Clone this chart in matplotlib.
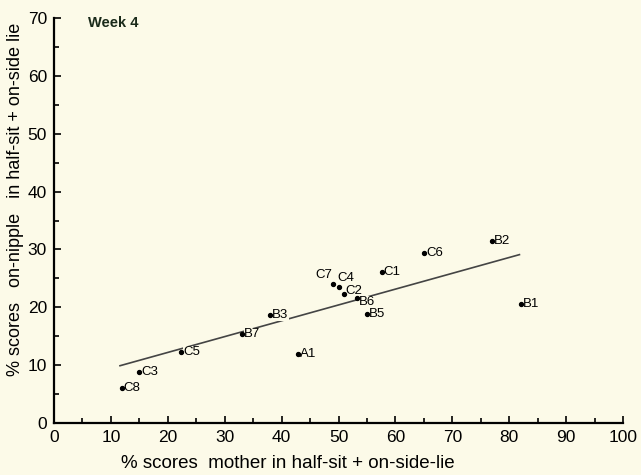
import matplotlib
matplotlib.use('Agg')
import matplotlib.pyplot as plt
from matplotlib.ticker import MultipleLocator

plt.rcParams['font.family'] = ['Liberation Sans', 'DejaVu Sans']

# subject codes and % scores
labels = ['C8', 'C3', 'C5', 'B7', 'B3', 'A1', 'C7', 'C4', 'C2', 'B6', 'B5', 'C1', 'C6', 'B2', 'B1']
mother = [11.9, 15.0, 22.3, 33.0, 38.0, 42.8, 49.1, 50.1, 50.9, 53.2, 55.0, 57.6, 65.1, 77.0, 82.0]
nipple = [6.0, 8.8, 12.3, 15.4, 18.7, 11.9, 24.1, 23.5, 22.3, 21.6, 18.8, 26.1, 29.3, 31.5, 20.6]

# regression line end points
line_x = [11.6, 81.8]
line_y = [9.9, 29.1]

bg = '#fcfae8'

fig = plt.figure(figsize=(6.41, 4.75), dpi=100, facecolor=bg)
ax = fig.add_axes([54/641, 1-423/475, 569/641, 405/475], facecolor=bg)

ax.plot(line_x, line_y, color='#444444', lw=1.2, zorder=1)
ax.scatter(mother, nipple, s=8, color='black', zorder=3)

# label offsets in points (dx, dy, ha, va)
offs = {'C7': (-1, 2, 'right', 'bottom'), 'C4': (-1, 2.5, 'left', 'bottom'),
        'C2': (1, -2, 'left', 'bottom'), 'B6': (1.5, -3, 'left', 'center')}
for lab, x, y in zip(labels, mother, nipple):
    dx, dy, ha, va = offs.get(lab, (1.5, 0, 'left', 'center'))
    ax.annotate(lab, (x, y), xytext=(dx, dy), textcoords='offset points',
                ha=ha, va=va, fontsize=9.5, zorder=2,
                bbox=dict(facecolor=bg, edgecolor='none', pad=0.2))

ax.set_xlim(0, 100)
ax.set_ylim(0, 70)
ax.xaxis.set_major_locator(MultipleLocator(10))
ax.xaxis.set_minor_locator(MultipleLocator(5))
ax.yaxis.set_major_locator(MultipleLocator(10))
ax.yaxis.set_minor_locator(MultipleLocator(5))
ax.tick_params(which='both', direction='in', width=1.2, labelsize=12.5, pad=5)
ax.tick_params(which='major', length=5)
ax.tick_params(which='minor', length=3.5)
for s in ['top', 'right']:
    ax.spines[s].set_visible(False)
for s in ['left', 'bottom']:
    ax.spines[s].set_linewidth(1.6)

fig.text(288/641, 1-463/475, '% scores  mother in half-sit + on-side-lie',
         ha='center', va='center', fontsize=13.5)
fig.text(16/641, 1-199/475, '% scores   on-nipple   in half-sit + on-side lie',
         ha='center', va='center', rotation=90, fontsize=13)
ax.text(88/641, 1-23/475, 'Week 4', transform=fig.transFigure,
        ha='left', va='center', fontsize=10.5, fontweight='bold', color='#1a2a1a')

fig.savefig('out.png', dpi=100, facecolor=bg)
